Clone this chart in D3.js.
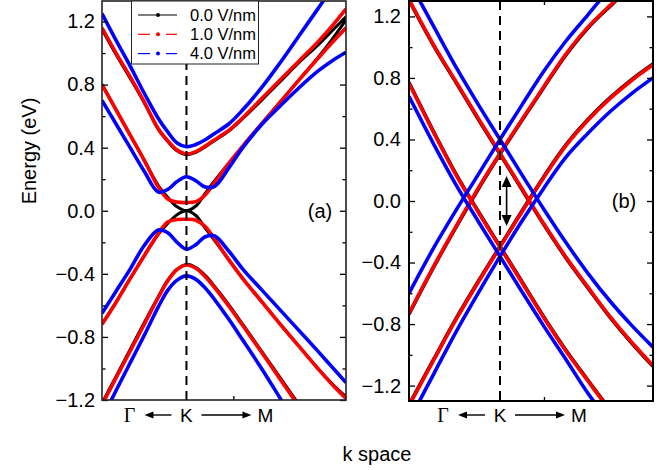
<!DOCTYPE html>
<html>
<head>
<meta charset="utf-8">
<script src="https://cdn.jsdelivr.net/npm/d3@7"></script>
<style>
  body { margin: 0; background: #fff; }
  svg { display: block; font-family: Arial, "Liberation Sans", sans-serif; }
</style>
</head>
<body>
<svg id="chart" width="668" height="470"></svg>
<script>
const fieldLabels = ["0.0 V/nm", "1.0 V/nm", "4.0 V/nm"];
const fieldColors = ["#000000", "#ff0000", "#0000ff"];
const energyTicks = [-1.2, -0.8, -0.4, 0.0, 0.4, 0.8, 1.2];
const energyMinor = [-1.0, -0.6, -0.2, 0.2, 0.6, 1.0];

// panel (a): k along Γ <- K -> M, K at 0
const kA = [-1.8, -1.5, -1.2, -0.9, -0.6, -0.4, -0.2, 0, 0.2, 0.4, 0.6, 0.9, 1.2, 1.6, 2.0, 2.4, 2.8, 3.1, 3.4];

const a0C2 = [1.15, 0.99, 0.84, 0.685, 0.515, 0.44, 0.38, 0.355, 0.37, 0.405, 0.445, 0.505, 0.585, 0.70, 0.82, 0.94, 1.05, 1.14, 1.23];
const a0C1 = [0.80, 0.64, 0.48, 0.32, 0.16, 0.085, 0.025, 0, 0.03, 0.11, 0.19, 0.30, 0.41, 0.55, 0.69, 0.83, 0.97, 1.085, 1.21];
const a0V1 = [-0.72, -0.58, -0.43, -0.285, -0.15, -0.08, -0.025, 0, -0.03, -0.11, -0.19, -0.31, -0.43, -0.575, -0.72, -0.86, -1.0, -1.095, -1.18];
const a0V2 = [-1.22, -1.05, -0.88, -0.71, -0.545, -0.44, -0.37, -0.34, -0.36, -0.41, -0.48, -0.595, -0.72, -0.89, -1.06, -1.23, -1.40, -1.53, -1.66];

const a1C2 = [1.16, 1.00, 0.85, 0.69, 0.52, 0.445, 0.385, 0.36, 0.375, 0.41, 0.45, 0.51, 0.59, 0.71, 0.83, 0.95, 1.07, 1.17, 1.28];
const a1C1 = [0.80, 0.64, 0.48, 0.32, 0.15, 0.075, 0.055, 0.052, 0.058, 0.10, 0.18, 0.30, 0.41, 0.55, 0.69, 0.83, 0.965, 1.065, 1.16];
const a1V1 = [-0.72, -0.58, -0.43, -0.285, -0.145, -0.072, -0.056, -0.054, -0.06, -0.10, -0.18, -0.31, -0.43, -0.575, -0.72, -0.86, -1.0, -1.10, -1.19];
const a1V2 = [-1.23, -1.06, -0.89, -0.72, -0.55, -0.445, -0.373, -0.344, -0.365, -0.418, -0.487, -0.604, -0.728, -0.897, -1.07, -1.24, -1.41, -1.54, -1.67];

const a4C2 = [1.25, 1.08, 0.917, 0.745, 0.585, 0.50, 0.43, 0.406, 0.42, 0.45, 0.49, 0.55, 0.64, 0.78, 0.94, 1.11, 1.28, 1.41, 1.53];
const a4C1 = [0.70, 0.55, 0.40, 0.25, 0.118, 0.135, 0.185, 0.216, 0.19, 0.15, 0.155, 0.27, 0.40, 0.545, 0.665, 0.78, 0.885, 0.95, 1.005];
const a4V1 = [-0.65, -0.51, -0.37, -0.22, -0.122, -0.14, -0.20, -0.244, -0.215, -0.165, -0.16, -0.255, -0.37, -0.50, -0.63, -0.76, -0.89, -0.99, -1.09];
const a4V2 = [-1.32, -1.14, -0.965, -0.79, -0.61, -0.505, -0.44, -0.413, -0.435, -0.49, -0.563, -0.687, -0.82, -1.0, -1.19, -1.38, -1.57, -1.71, -1.85];

// panel (b): two shifted Dirac cones, each as two straight-ish branches
const kB = [-2.07, -1.5, -1.0, -0.5, 0, 0.5, 1.0, 1.5, 2.0, 2.5, 3.0, 3.48];

const b0UpDesc = [1.305, 1.005, 0.77, 0.535, 0.305, 0.075, -0.155, -0.37, -0.565, -0.755, -0.925, -1.075];
const b0UpAsc = [-0.735, -0.425, -0.17, 0.075, 0.305, 0.525, 0.74, 0.95, 1.125, 1.265, 1.395, 1.495];
const b0LoDesc = [0.77, 0.445, 0.175, -0.065, -0.295, -0.525, -0.755, -0.97, -1.165, -1.355, -1.525, -1.675];
const b0LoAsc = [-1.325, -1.025, -0.765, -0.525, -0.295, -0.065, 0.16, 0.365, 0.53, 0.67, 0.79, 0.89];

const b1UpDesc = [1.31, 1.01, 0.775, 0.54, 0.31, 0.08, -0.15, -0.365, -0.56, -0.75, -0.92, -1.07];
const b1UpAsc = [-0.73, -0.42, -0.165, 0.08, 0.31, 0.53, 0.745, 0.955, 1.13, 1.27, 1.40, 1.50];
const b1LoDesc = [0.765, 0.44, 0.17, -0.07, -0.30, -0.53, -0.76, -0.975, -1.17, -1.36, -1.53, -1.68];
const b1LoAsc = [-1.33, -1.03, -0.77, -0.53, -0.30, -0.07, 0.155, 0.36, 0.525, 0.665, 0.785, 0.885];

const b4UpDesc = [1.43, 1.13, 0.87, 0.63, 0.40, 0.17, -0.055, -0.27, -0.47, -0.65, -0.81, -0.95];
const b4UpAsc = [-0.60, -0.30, -0.06, 0.17, 0.40, 0.625, 0.845, 1.04, 1.21, 1.38, 1.52, 1.64];
const b4LoDesc = [0.68, 0.365, 0.105, -0.13, -0.36, -0.59, -0.815, -1.03, -1.25, -1.44, -1.62, -1.78];
const b4LoAsc = [-1.43, -1.12, -0.85, -0.60, -0.36, -0.13, 0.085, 0.285, 0.44, 0.58, 0.70, 0.80];

// gap arrow in (b): k position and energy ends
const gapArrowK = 0.15;
const gapArrowE = [0.163, -0.163];

const bandsA = [
  [a0C2, a0C1, a0V1, a0V2],
  [a1C2, a1C1, a1V1, a1V2],
  [a4C2, a4C1, a4V1, a4V2]
];
const bandsB = [
  [b0UpDesc, b0UpAsc, b0LoDesc, b0LoAsc],
  [b1UpDesc, b1UpAsc, b1LoDesc, b1LoAsc],
  [b4UpDesc, b4UpAsc, b4LoDesc, b4LoAsc]
];

const svg = d3.select("#chart");
const TICK_FONT = 20;
const TITLE_FONT = 20;

function drawPanel(p) {
  const x = d3.scaleLinear().domain(p.kDomain).range([p.left, p.right]);
  const y = d3.scaleLinear().domain(p.eDomain).range([p.bottom, p.top]);
  const g = svg.append("g");

  g.append("clipPath").attr("id", "clip" + p.id)
    .append("rect")
    .attr("x", p.left).attr("y", p.top)
    .attr("width", p.right - p.left).attr("height", p.bottom - p.top);

  // bands
  const curves = g.append("g").attr("clip-path", "url(#clip" + p.id + ")");
  p.bands.forEach((set, f) => {
    const line = d3.line()
      .x((d, i) => x(p.kGrid[i]))
      .y(d => y(d))
      .curve(d3.curveCatmullRom.alpha(0.5));
    set.forEach(band => {
      curves.append("path")
        .attr("d", line(band))
        .attr("fill", "none")
        .attr("stroke", fieldColors[f])
        .attr("stroke-width", f === 0 ? p.blackWidth : 3.6)
        .attr("stroke-linejoin", "round");
    });
  });

  // dashed K line
  g.append("line")
    .attr("x1", x(0)).attr("x2", x(0))
    .attr("y1", p.top).attr("y2", p.bottom)
    .attr("stroke", "#000").attr("stroke-width", 2)
    .attr("stroke-dasharray", "9,6");

  // y axes, ticks inward
  g.append("g").attr("transform", `translate(${p.left},0)`)
    .call(d3.axisLeft(y).tickValues(energyTicks).tickSize(-6).tickPadding(p.labelPad)
      .tickFormat(d3.format(".1f")))
    .call(a => a.select(".domain").remove())
    .call(a => a.selectAll("text").attr("font-size", TICK_FONT).attr("font-family", null).attr("fill", "#000"));
  g.append("g").attr("transform", `translate(${p.left},0)`)
    .call(d3.axisLeft(y).tickValues(energyMinor).tickSize(-3.5).tickFormat(""))
    .call(a => a.select(".domain").remove());
  g.append("g").attr("transform", `translate(${p.right},0)`)
    .call(d3.axisRight(y).tickValues(energyTicks).tickSize(-6).tickFormat(""))
    .call(a => a.select(".domain").remove());
  g.append("g").attr("transform", `translate(${p.right},0)`)
    .call(d3.axisRight(y).tickValues(energyMinor).tickSize(-3.5).tickFormat(""))
    .call(a => a.select(".domain").remove());

  // x axes
  g.append("g").attr("transform", `translate(0,${p.bottom})`)
    .call(d3.axisBottom(x).tickValues([1]).tickSize(-4).tickFormat(""))
    .call(a => a.select(".domain").remove());
  g.append("g").attr("transform", `translate(0,${p.top})`)
    .call(d3.axisTop(x).tickValues([1]).tickSize(-4).tickFormat(""))
    .call(a => a.select(".domain").remove());
  g.selectAll(".tick line").attr("stroke", "#000").attr("stroke-width", 1.3);

  // frame
  g.append("rect")
    .attr("x", p.left).attr("y", p.top)
    .attr("width", p.right - p.left).attr("height", p.bottom - p.top)
    .attr("fill", "none").attr("stroke", p.frameColor).attr("stroke-width", p.frameWidth);

  // Γ <- K -> M
  const kx = x(0), ty = 422, ay = 415;
  g.append("text").attr("x", kx - 57).attr("y", ty).attr("text-anchor", "middle")
    .attr("font-family", "'Times New Roman', 'Liberation Serif', serif")
    .attr("font-size", 20).text("Γ");
  g.append("text").attr("x", kx).attr("y", ty).attr("text-anchor", "middle")
    .attr("font-size", 19).text("K");
  g.append("text").attr("x", kx + 71).attr("y", ty).attr("text-anchor", "start")
    .attr("font-size", 19).text("M");
  [[kx - 15, kx - 42], [kx + 15, kx + 65]].forEach(([x0, x1]) => {
    const dir = Math.sign(x1 - x0);
    g.append("line").attr("x1", x0).attr("x2", x1 - dir * 6)
      .attr("y1", ay).attr("y2", ay).attr("stroke", "#000").attr("stroke-width", 1.4);
    g.append("path")
      .attr("d", `M${x1},${ay} L${x1 - dir * 9},${ay - 3.5} L${x1 - dir * 9},${ay + 3.5} Z`)
      .attr("fill", "#000");
  });

  // panel tag
  g.append("text").attr("x", p.tagX).attr("y", y(0)).attr("dy", "0.35em")
    .attr("text-anchor", "middle").attr("font-size", TITLE_FONT).text(p.tag);

  return { x, y, g };
}

const pa = drawPanel({
  id: "a", left: 102, right: 346, top: 1, bottom: 400,
  kDomain: [-1.8, 3.4], eDomain: [-1.2, 1.33],
  kGrid: kA, bands: bandsA, blackWidth: 3, labelPad: 7,
  frameColor: "#222", frameWidth: 1.6, tag: "(a)", tagX: 320
});

const pb = drawPanel({
  id: "b", left: 409, right: 653, top: 1, bottom: 401,
  kDomain: [-2.07, 3.48], eDomain: [-1.3, 1.3],
  kGrid: kB, bands: bandsB, blackWidth: 3.6, labelPad: 8,
  frameColor: "#000", frameWidth: 2, tag: "(b)", tagX: 624
});

// gap arrow in (b)
const ax = pb.x(gapArrowK);
const yTop = pb.y(gapArrowE[0]), yBot = pb.y(gapArrowE[1]);
pb.g.append("line").attr("x1", ax).attr("x2", ax)
  .attr("y1", yTop + 8).attr("y2", yBot - 8)
  .attr("stroke", "#000").attr("stroke-width", 1.6);
pb.g.append("path")
  .attr("d", `M${ax},${yTop} L${ax - 5},${yTop + 11} L${ax + 5},${yTop + 11} Z`)
  .attr("fill", "#000");
pb.g.append("path")
  .attr("d", `M${ax},${yBot} L${ax - 5},${yBot - 11} L${ax + 5},${yBot - 11} Z`)
  .attr("fill", "#000");

// legend in (a)
const legend = svg.append("g");
legend.append("rect")
  .attr("x", 131.5).attr("y", 1).attr("width", 127).attr("height", 63)
  .attr("fill", "#fff").attr("stroke", "#222").attr("stroke-width", 1);
fieldLabels.forEach((label, i) => {
  const ly = 15 + 19.3 * i;
  const segs = i === 0 ? [[138, 177]] : [[138, 150], [166, 177]];
  segs.forEach(([s0, s1]) => {
    legend.append("line").attr("x1", s0).attr("x2", s1).attr("y1", ly).attr("y2", ly)
      .attr("stroke", fieldColors[i]).attr("stroke-width", 1.2);
  });
  legend.append("circle").attr("cx", 158).attr("cy", ly).attr("r", 2)
    .attr("fill", fieldColors[i]);
  legend.append("text").attr("x", 190).attr("y", ly).attr("dy", "0.35em")
    .attr("font-size", 16.5).text(label);
});

// axis titles
svg.append("text")
  .attr("transform", "translate(36,151) rotate(-90)")
  .attr("text-anchor", "middle").attr("font-size", TITLE_FONT).text("Energy (eV)");
svg.append("text")
  .attr("x", 377).attr("y", 461).attr("text-anchor", "middle")
  .attr("font-size", TITLE_FONT).text("k space");
</script>
</body>
</html>
